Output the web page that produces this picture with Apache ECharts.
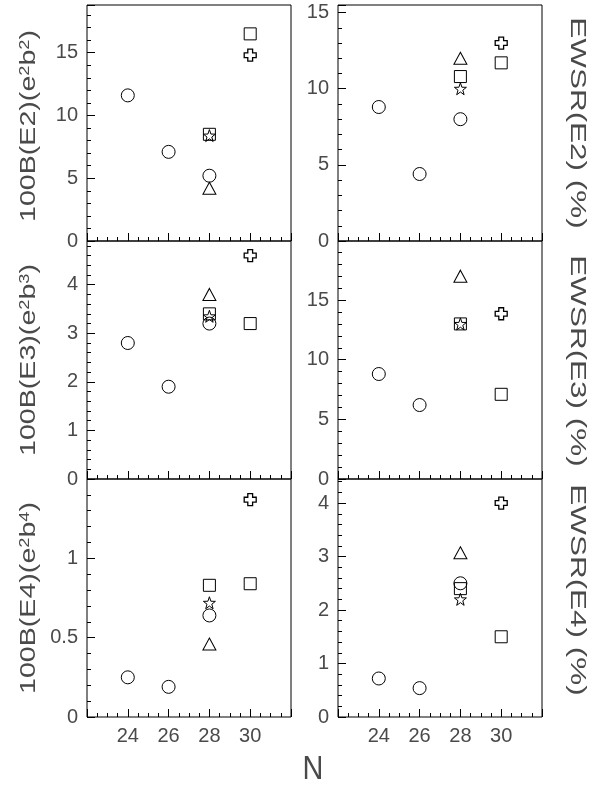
<!DOCTYPE html>
<html><head><meta charset="utf-8">
<script src="https://cdn.jsdelivr.net/npm/echarts@6/dist/echarts.min.js"></script>
<style>html,body{margin:0;padding:0;background:#fff}#c{width:606px;height:789px}</style>
</head><body><div id="c"></div>
<script>
// ---- data ----
const xTickLabels = [24, 26, 28, 30];
const nCircle = [24, 26, 28];
const nTriangle = [28];
const nSquare = [28, 30];
const nStar = [28];
const nCross = [30];

const be2Circle = [11.6, 7.1, 5.2];
const be2Triangle = [4.2];
const be2Square = [8.5, 16.5];
const be2Star = [8.4];
const be2Cross = [14.8];

const ewsr2Circle = [8.8, 4.4, 8.0];
const ewsr2Triangle = [12.0];
const ewsr2Square = [10.8, 11.7];
const ewsr2Star = [10.0];
const ewsr2Cross = [13.0];

const be3Circle = [2.8, 1.9, 3.2];
const be3Triangle = [3.8];
const be3Square = [3.4, 3.2];
const be3Star = [3.35];
const be3Cross = [4.6];

const ewsr3Circle = [8.8, 6.2, null];
const ewsr3Triangle = [17.0];
const ewsr3Square = [13.0, 7.1];
const ewsr3Star = [13.0];
const ewsr3Cross = [13.85];

const be4Circle = [0.25, 0.19, 0.64];
const be4Triangle = [0.46];
const be4Square = [0.83, 0.84];
const be4Star = [0.72];
const be4Cross = [1.37];

const ewsr4Circle = [0.72, 0.54, 2.5];
const ewsr4Triangle = [3.07];
const ewsr4Square = [2.4, 1.5];
const ewsr4Star = [2.2];
const ewsr4Cross = [4.0];

const leftTitles = ['100B(E2)(e{s|2}b{s|2})', '100B(E3)(e{s|2}b{s|3})', '100B(E4)(e{s|2}b{s|4})'];
const rightTitles = ['EWSR(E2) (%)', 'EWSR(E3) (%)', 'EWSR(E4) (%)'];
const xTitle = 'N';

// ---- layout ----
const colLeft = [87, 338];
const colWidth = 204;
const rowTop = [5, 241, 479];
const rowHeight = [236, 238, 238];

const panels = [
  {row:0, col:0, max:18.8, interval:5, vals:[be2Circle, be2Triangle, be2Square, be2Star, be2Cross]},
  {row:0, col:1, max:15.5, interval:5, vals:[ewsr2Circle, ewsr2Triangle, ewsr2Square, ewsr2Star, ewsr2Cross]},
  {row:1, col:0, max:4.9, interval:1, vals:[be3Circle, be3Triangle, be3Square, be3Star, be3Cross]},
  {row:1, col:1, max:19.95, interval:5, vals:[ewsr3Circle, ewsr3Triangle, ewsr3Square, ewsr3Star, ewsr3Cross]},
  {row:2, col:0, max:1.5, interval:0.5, vals:[be4Circle, be4Triangle, be4Square, be4Star, be4Cross]},
  {row:2, col:1, max:4.45, interval:1, vals:[ewsr4Circle, ewsr4Triangle, ewsr4Square, ewsr4Star, ewsr4Cross]}
];

const STAR = 'path://M0,-10 L2.35,-3.24 L9.51,-3.09 L3.8,1.24 L5.88,8.09 L0,4 L-5.88,8.09 L-3.8,1.24 L-9.51,-3.09 L-2.35,-3.24 Z';
const CROSS = 'path://M-2,-5 L2,-5 L2,-2 L5,-2 L5,2 L2,2 L2,5 L-2,5 L-2,2 L-5,2 L-5,-2 L-2,-2 Z';
const symDefs = [
  {xs:nCircle, symbol:'circle', size:13, bw:1},
  {xs:nTriangle, symbol:'triangle', size:[13,12], bw:1},
  {xs:nSquare, symbol:'rect', size:12, bw:1},
  {xs:nStar, symbol:STAR, size:12, bw:1},
  {xs:nCross, symbol:CROSS, size:12, bw:1.3}
];

const FONT = 'Liberation Sans';
const TXT = '#4a4a4a';

const grid = [], xAxis = [], yAxis = [], series = [];
panels.forEach((p, i) => {
  grid.push({left: colLeft[p.col], top: rowTop[p.row], width: colWidth, height: rowHeight[p.row],
    show: true, borderColor: '#000', borderWidth: 1, backgroundColor: 'transparent', containLabel: false});
  xAxis.push({type:'value', gridIndex:i, min:22, max:32, interval:2,
    axisLine:{show:false},
    axisTick:{show:true, inside:true, length:8, lineStyle:{color:'#000', width:1}},
    minorTick:{show:true, splitNumber:4, length:4, lineStyle:{color:'#000', width:1}},
    splitLine:{show:false},
    axisLabel:{show: p.row === 2, margin:9, fontSize:20, fontFamily:FONT, color:TXT,
      formatter: v => xTickLabels.includes(v) ? String(v) : ''}
  });
  yAxis.push({type:'value', gridIndex:i, min:0, max:p.max, interval:p.interval,
    axisLine:{show:false},
    axisTick:{show:true, inside:true, length:8, lineStyle:{color:'#000', width:1}},
    minorTick:{show:true, splitNumber:5, length:4, lineStyle:{color:'#000', width:1}},
    splitLine:{show:false},
    axisLabel:{show:true, margin:9, fontSize:20, fontFamily:FONT, color:TXT, showMaxLabel:false,
      formatter: v => String(v)}
  });
  symDefs.forEach((s, k) => {
    const data = s.xs.map((n, j) => [n, p.vals[k][j]]).filter(d => d[1] != null);
    series.push({type:'scatter', xAxisIndex:i, yAxisIndex:i, data,
      symbol:s.symbol, symbolSize:s.size, silent:true,
      itemStyle:{color:'rgba(0,0,0,0)', borderColor:'#000', borderWidth:s.bw, opacity:1}
    });
  });
});

const graphic = [];
const leftY = [126, 360, 598];
const rightY = [123, 361, 590];
leftTitles.forEach((t, i) => graphic.push({type:'text', x:29, y:leftY[i], rotation:Math.PI/2, scaleX:1.3,
  style:{text:t, fontSize:22, fontFamily:FONT, fill:TXT, align:'center', verticalAlign:'middle',
    rich:{s:{fontSize:14, fontFamily:FONT, fill:TXT, verticalAlign:'top'}}}}));
rightTitles.forEach((t, i) => graphic.push({type:'text', x:577, y:rightY[i], rotation:-Math.PI/2, scaleX:1.43,
  style:{text:t, fontSize:22, fontFamily:FONT, fill:TXT, align:'center', verticalAlign:'middle'}}));
graphic.push({type:'text', x:313, y:770, scaleX:0.85,
  style:{text:xTitle, fontSize:34, fontFamily:FONT, fill:TXT, align:'center', verticalAlign:'middle'}});

const chart = echarts.init(document.getElementById('c'), null, {renderer:'canvas'});
chart.setOption({animation:false, backgroundColor:'#fff', grid, xAxis, yAxis, series, graphic});
</script></body></html>
